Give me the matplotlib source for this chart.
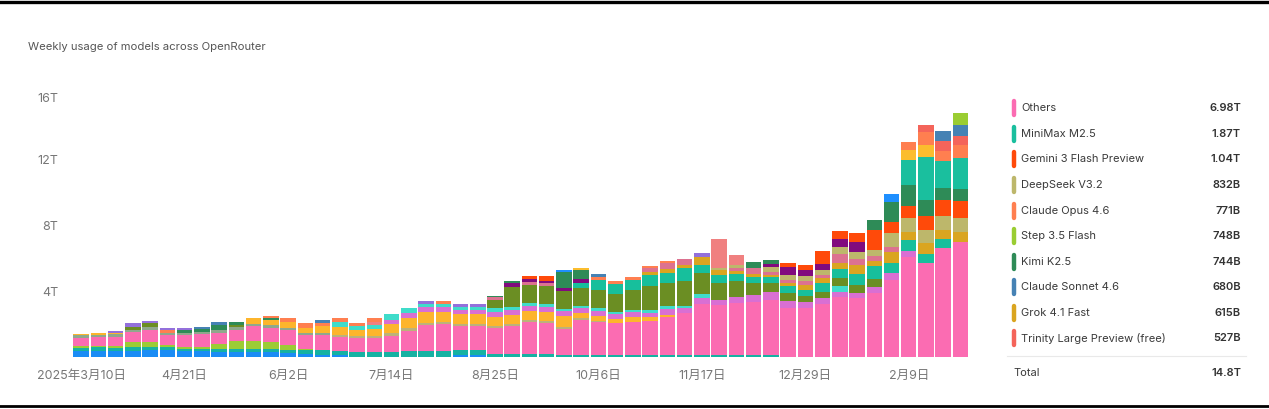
import numpy as np
import matplotlib
matplotlib.use("Agg")
import matplotlib.pyplot as plt
from matplotlib.lines import Line2D

plt.rcParams['font.family'] = ['Inter', 'Noto Sans CJK SC', 'DejaVu Sans']

# 52 weekly bars, 2025-03-10 .. 2026-03-02, values in trillions of tokens
weeks = np.arange(52)
tick_weeks = [0, 6, 12, 18, 24, 30, 36, 42, 48]
tick_labels = ['2025年3月10日', '4月21日', '6月2日', '7月14日', '8月25日',
               '10月6日', '11月17日', '12月29日', '2月9日']

# unnamed (older) models
blue_e = [.38, .38, .38, .38, .42, .42, .36, .36, .30, .30, .30, .28, .25,
          .20, .15, .10, 0, 0, 0, 0, 0, 0, .10, .10, 0, 0,
          0, 0, 0, 0, 0, 0, 0, 0, 0, 0, 0, 0, 0,
          0, 0, 0, 0, 0, 0, 0, 0, 0, 0, 0, 0, 0]
teal_e = [.18, .20, .18, .24, .20, .18, .12, .14, .16, .20, .20, .20, .18,
          .20, .25, .24, .30, .30, .30, .34, .38, .38, .30, .30, .16, .16,
          .16, .16, .12, .15, .12, .12, .12, .14, .14, .14, .14, .14, .14,
          .14, .14, 0, 0, 0, 0, 0, 0, 0, 0, 0, 0, 0]
lime_e = [.08, .08, .08, .30, .30, .10, .10, .12, .30, .45, .50, .45, .30,
          .10, 0, 0, 0, 0, 0, 0, 0, 0, 0, 0, 0, 0,
          0, 0, 0, 0, 0, 0, 0, 0, 0, 0, 0, 0, 0,
          0, 0, 0, 0, 0, 0, 0, 0, 0, 0, 0, 0, 0]
others = [.53, .55, .60, .60, .70, .65, .75, .78, .70, .70, .85, .80, .90,
          .85, .95, .90, .85, .85, 1.00, 1.25, 1.55, 1.60, 1.45, 1.45, 1.58, 1.69,
          1.99, 1.90, 1.58, 2.10, 2.00, 1.92, 2.02, 2.06, 2.30, 2.53, 3.09, 3.01, 3.11,
          3.21, 3.31, 2.98, 2.99, 3.21, 3.66, 3.56, 3.90, 4.67, 6.04, 5.68, 6.59, 6.98]
gray_e = [.14, .14, .14, .12, .22, .13, .14, .14, .20, .15, .15, .20, .15,
          .08, .10, 0, 0, 0, 0, 0, 0, 0, 0, 0, 0, 0,
          0, 0, 0, 0, 0, 0, 0, 0, 0, 0, 0, 0, 0,
          0, 0, 0, 0, 0, 0, 0, 0, 0, 0, 0, 0, 0]
khaki_e = [0, 0, 0, 0, 0, 0, 0, 0, 0, 0, 0, 0, 0,
           0, 0, .10, .10, .10, .15, .15, .15, .15, .15, .15, .14, .14,
           .12, .12, .14, .10, .05, 0, 0, 0, 0, 0, 0, 0, 0,
           0, 0, 0, 0, 0, 0, 0, 0, 0, 0, 0, 0, 0]
amber_e = [.08, .08, .08, 0, 0, 0, 0, 0, 0, 0, .38, .30, .35,
           .35, .40, .50, .40, .45, .55, .60, .65, .60, .60, .60, .57, .57,
           .50, .55, .65, .30, .30, .26, .30, .20, .12, 0, 0, 0, 0,
           0, 0, 0, 0, 0, 0, 0, 0, 0, 0, 0, 0, 0]
orchid = [0, 0, 0, 0, 0, 0, 0, 0, 0, 0, 0, 0, 0,
          0, 0, 0, 0, 0, .25, .30, .30, .30, .25, .25, .30, .30,
          .30, .30, .30, .35, .30, .28, .26, .24, .32, .30, .34, .30, .36,
          .40, .46, .40, .34, .34, .30, .30, .36, .40, .40, 0, 0, 0]
turq = [0, 0, 0, 0, 0, 0, 0, 0, 0, 0, 0, 0, 0,
        0, 0, .30, .23, .25, .34, .35, .20, .20, .20, .20, .20, .20,
        .20, .20, .10, .10, .20, .16, .14, .20, .20, .14, .24, 0, 0,
        0, 0, 0, 0, 0, .34, 0, 0, 0, 0, 0, 0, 0]
olive = [0, 0, 0, .20, .20, 0, 0, 0, 0, .14, 0, 0, 0,
         0, 0, 0, 0, 0, 0, 0, 0, 0, 0, 0, .50, 1.20,
         1.10, 1.08, 1.13, 1.10, 1.10, 1.10, 1.21, 1.47, 1.41, 1.47, 1.31, 1.01, 1.01,
         .71, .55, .50, .36, .40, .46, .50, .45, 0, 0, 0, 0, 0]
teal_old = [0, 0, 0, 0, 0, 0, 0, 0, 0, 0, 0, 0, 0,
            0, 0, 0, 0, 0, 0, 0, 0, 0, 0, 0, 0, 0,
            0, 0, 0, .30, .60, .60, .60, .65, .63, .80, .46, .50, .44,
            .40, .40, .40, .40, .55, .60, .70, .80, .65, .65, .57, .55, 0]
pvr = [0, 0, 0, 0, 0, 0, 0, 0, 0, 0, 0, 0, 0,
       0, 0, 0, 0, 0, 0, 0, 0, 0, 0, 0, .16, 0,
       .20, .16, 0, 0, 0, 0, 0, .24, .34, .36, 0, 0, .20,
       .36, .16, .20, .24, .20, .57, .40, .30, .30, 0, 0, 0, 0]
purple = [0, 0, 0, 0, 0, 0, 0, 0, 0, 0, 0, 0, 0,
          0, 0, 0, 0, 0, 0, 0, 0, 0, 0, 0, 0, .20,
          .14, .16, .14, .20, 0, 0, 0, 0, 0, 0, 0, 0, 0,
          0, .20, .50, .35, .40, .50, .60, 0, 0, 0, 0, 0, 0]
amber_b = [0, 0, 0, 0, 0, 0, 0, 0, 0, 0, 0, 0, 0,
           0, 0, 0, 0, 0, 0, 0, 0, 0, 0, 0, 0, 0,
           0, 0, 0, .10, 0, 0, 0, 0, 0, 0, 0, 0, 0,
           0, 0, 0, 0, 0, 0, 0, 0, 0, .61, .75, 0, 0]
lcoral = [0, 0, 0, 0, 0, 0, 0, 0, 0, 0, 0, 0, 0,
          0, 0, 0, 0, .18, 0, 0, 0, 0, 0, 0, 0, 0,
          0, 0, 0, 0, 0, 0, 0, 0, 0, 0, 0, 1.76, .57,
          0, 0, 0, 0, 0, 0, 0, 0, 0, 0, 0, 0, 0]
dodger_top = [0, 0, 0, 0, 0, 0, 0, 0, 0, 0, 0, 0, 0,
              0, 0, 0, 0, 0, 0, 0, 0, 0, 0, 0, 0, 0,
              0, 0, .11, 0, 0, 0, 0, 0, 0, 0, 0, 0, 0,
              0, 0, 0, 0, 0, 0, 0, 0, .44, 0, 0, 0, 0]
mpurple = [0, 0, .14, .20, .14, .15, .13, 0, 0, 0, 0, 0, 0,
           0, 0, 0, 0, 0, 0, 0, .18, 0, .14, .14, 0, 0,
           0, 0, 0, 0, 0, 0, 0, 0, 0, 0, .20, 0, 0,
           0, 0, 0, 0, 0, 0, 0, 0, 0, 0, 0, 0, 0]

# models named in the legend
grok = [0, 0, 0, 0, 0, 0, 0, 0, 0, 0, 0, 0, 0,
        0, 0, 0, 0, 0, 0, 0, 0, 0, 0, 0, 0, 0,
        0, 0, 0, 0, 0, 0, 0, .20, .22, .20, .50, .30, .14,
        .20, .14, .20, .30, .26, .34, .50, .30, .66, .50, .65, .57, .615]
deepseek = [0, 0, 0, 0, 0, 0, 0, 0, 0, 0, 0, 0, 0,
            0, 0, 0, 0, 0, 0, 0, 0, 0, 0, 0, 0, 0,
            0, 0, 0, 0, 0, 0, 0, 0, 0, 0, 0, .16, .20,
            0, .30, .30, .30, .30, .40, .40, .40, .81, .81, .77, .81, .832]
gemini = [0, 0, 0, 0, 0, 0, 0, 0, 0, 0, 0, 0, 0,
          0, 0, 0, 0, 0, 0, 0, 0, 0, 0, 0, 0, 0,
          .22, .30, 0, 0, 0, 0, 0, 0, 0, 0, 0, 0, 0,
          0, 0, .24, .30, .77, .46, .55, 1.20, .71, .75, .85, 1.01, 1.04]
kimi = [0, 0, 0, 0, 0, 0, .14, .14, .30, .20, 0, .12, 0,
        0, 0, 0, 0, 0, 0, 0, 0, 0, 0, 0, .11, .14,
        0, 0, 1.00, .57, 0, 0, 0, 0, 0, 0, 0, 0, 0,
        .34, .20, 0, 0, 0, 0, 0, .60, 1.21, 1.27, 1.01, .71, .744]
minimax = [0, 0, 0, 0, 0, 0, 0, 0, 0, 0, 0, 0, 0,
           0, 0, 0, 0, 0, 0, 0, 0, 0, 0, 0, 0, 0,
           0, 0, 0, 0, 0, 0, 0, 0, 0, 0, 0, 0, 0,
           0, 0, 0, 0, 0, 0, 0, 0, 0, 1.52, 2.59, 1.66, 1.87]
opus = [0, 0, 0, 0, 0, .15, 0, 0, 0, 0, 0, .15, .25,
        .30, .20, .20, .20, .25, 0, 0, 0, .18, 0, 0, 0, 0,
        0, 0, 0, 0, .20, .16, .20, .12, .14, 0, 0, 0, 0,
        0, 0, 0, 0, 0, 0, 0, 0, 0, .50, .75, .61, .771]
trinity = [0, 0, 0, 0, 0, 0, 0, 0, 0, 0, 0, 0, 0,
           0, 0, 0, 0, 0, 0, 0, 0, 0, 0, 0, 0, 0,
           0, 0, 0, 0, 0, 0, 0, 0, 0, 0, 0, 0, 0,
           0, 0, 0, 0, 0, 0, 0, 0, 0, 0, .42, .57, .527]
sonnet = [0, 0, 0, 0, 0, 0, 0, .12, .18, 0, 0, 0, 0,
          0, .19, 0, 0, 0, 0, 0, 0, 0, 0, 0, 0, 0,
          0, 0, 0, 0, .16, 0, 0, 0, 0, 0, 0, 0, 0,
          0, 0, 0, 0, 0, 0, 0, 0, 0, 0, 0, .61, .68]
step = [0, 0, 0, 0, 0, 0, 0, 0, 0, 0, 0, 0, 0,
        0, 0, 0, 0, 0, 0, 0, 0, 0, 0, 0, 0, 0,
        0, 0, 0, 0, 0, 0, 0, 0, 0, 0, 0, 0, 0,
        0, 0, 0, 0, 0, 0, 0, 0, 0, 0, 0, 0, .748]

# bottom -> top
stack = [
    (blue_e, '#1a8cf5', None),
    (teal_e, '#16b2a2', None),
    (lime_e, '#9ccc35', None),
    (others, '#fb6cb2', 'Others'),
    (gray_e, '#8fa88c', None),
    (khaki_e, '#bcb27a', None),
    (amber_e, '#fdb52c', None),
    (orchid, '#d96fd3', None),
    (turq, '#3fdcca', None),
    (olive, '#6b8e23', None),
    (teal_old, '#17bf9c', None),
    (grok, '#daa520', 'Grok 4.1 Fast'),
    (pvr, '#dc7290', None),
    (deepseek, '#bdb76b', 'DeepSeek V3.2'),
    (purple, '#810b7e', None),
    (gemini, '#ff4a0a', 'Gemini 3 Flash Preview'),
    (kimi, '#2e8b57', 'Kimi K2.5'),
    (minimax, '#1abf9e', 'MiniMax M2.5'),
    (amber_b, '#fbbd2e', None),
    (lcoral, '#f08080', None),
    (opus, '#ff7f50', 'Claude Opus 4.6'),
    (trinity, '#f4645a', 'Trinity Large Preview (free)'),
    (sonnet, '#4682b4', 'Claude Sonnet 4.6'),
    (dodger_top, '#1e8fff', None),
    (mpurple, '#9370db', None),
    (step, '#9acd32', 'Step 3.5 Flash'),
]

W, H = 1269, 409


def fx(x):
    return x / W


def fy(y):
    return 1 - y / H


def fmt(v):
    if v >= 1:
        return '%.2fT' % v
    return '%dB' % round(v * 1000)


fig = plt.figure(figsize=(W / 100, H / 100), dpi=100)
ax = fig.add_axes([fx(70.9), fy(357), (970.8 - 70.9) / W, 264 / H])

bottom = np.zeros(len(weeks))
for vals, color, name in stack:
    vals = np.array(vals, dtype=float)
    ax.bar(weeks, vals, 0.9, bottom=bottom, color=color, linewidth=0)
    bottom += vals

ax.set_xlim(-0.6, 51.6)
ax.set_ylim(0, 16)
for s in ax.spines.values():
    s.set_visible(False)
ax.set_yticks([4, 8, 12, 16], labels=['4T', '8T', '12T', '16T'])
ax.set_xticks(tick_weeks, labels=tick_labels)
ax.tick_params(length=0, labelsize=9, labelcolor='#777777')
ax.tick_params(axis='y', pad=9)
ax.tick_params(axis='x', pad=9)
ax.get_yticklabels()[-1].set_verticalalignment('top')

fig.text(fx(28), fy(47), 'Weekly usage of models across OpenRouter',
         fontsize=8.1, color='#555555', va='center', ha='left')

# legend panel: last week, largest first
named = [(name, vals[-1], color) for vals, color, name in stack if name]
named.sort(key=lambda t: -t[1])
row_y = 108.3
for name, v, color in named:
    fig.add_artist(Line2D([fx(1014), fx(1014)], [fy(row_y - 7), fy(row_y + 7)],
                          lw=3.2, color=color, solid_capstyle='round'))
    fig.text(fx(1021), fy(row_y), name, fontsize=8, color='#3a3a3a',
             va='center', ha='left')
    fig.text(fx(1241), fy(row_y), fmt(v), fontsize=8, color='#333333',
             va='center', ha='right', fontweight='semibold')
    row_y += 25.55

fig.add_artist(Line2D([fx(1007), fx(1246)], [fy(356), fy(356)],
                      lw=0.8, color='#e9e9e9'))
fig.text(fx(1013), fy(373), 'Total', fontsize=8, color='#3a3a3a',
         va='center', ha='left')
fig.text(fx(1241), fy(373), '%.1fT' % bottom[-1], fontsize=8, color='#333333',
         va='center', ha='right', fontweight='semibold')

# screenshot borders
fig.add_artist(Line2D([0, 1], [fy(1.5), fy(1.5)], lw=2.4, color='black'))
fig.add_artist(Line2D([0, 1], [fy(405.5), fy(405.5)], lw=2.0, color='black'))

fig.savefig('out.png', dpi=100)
